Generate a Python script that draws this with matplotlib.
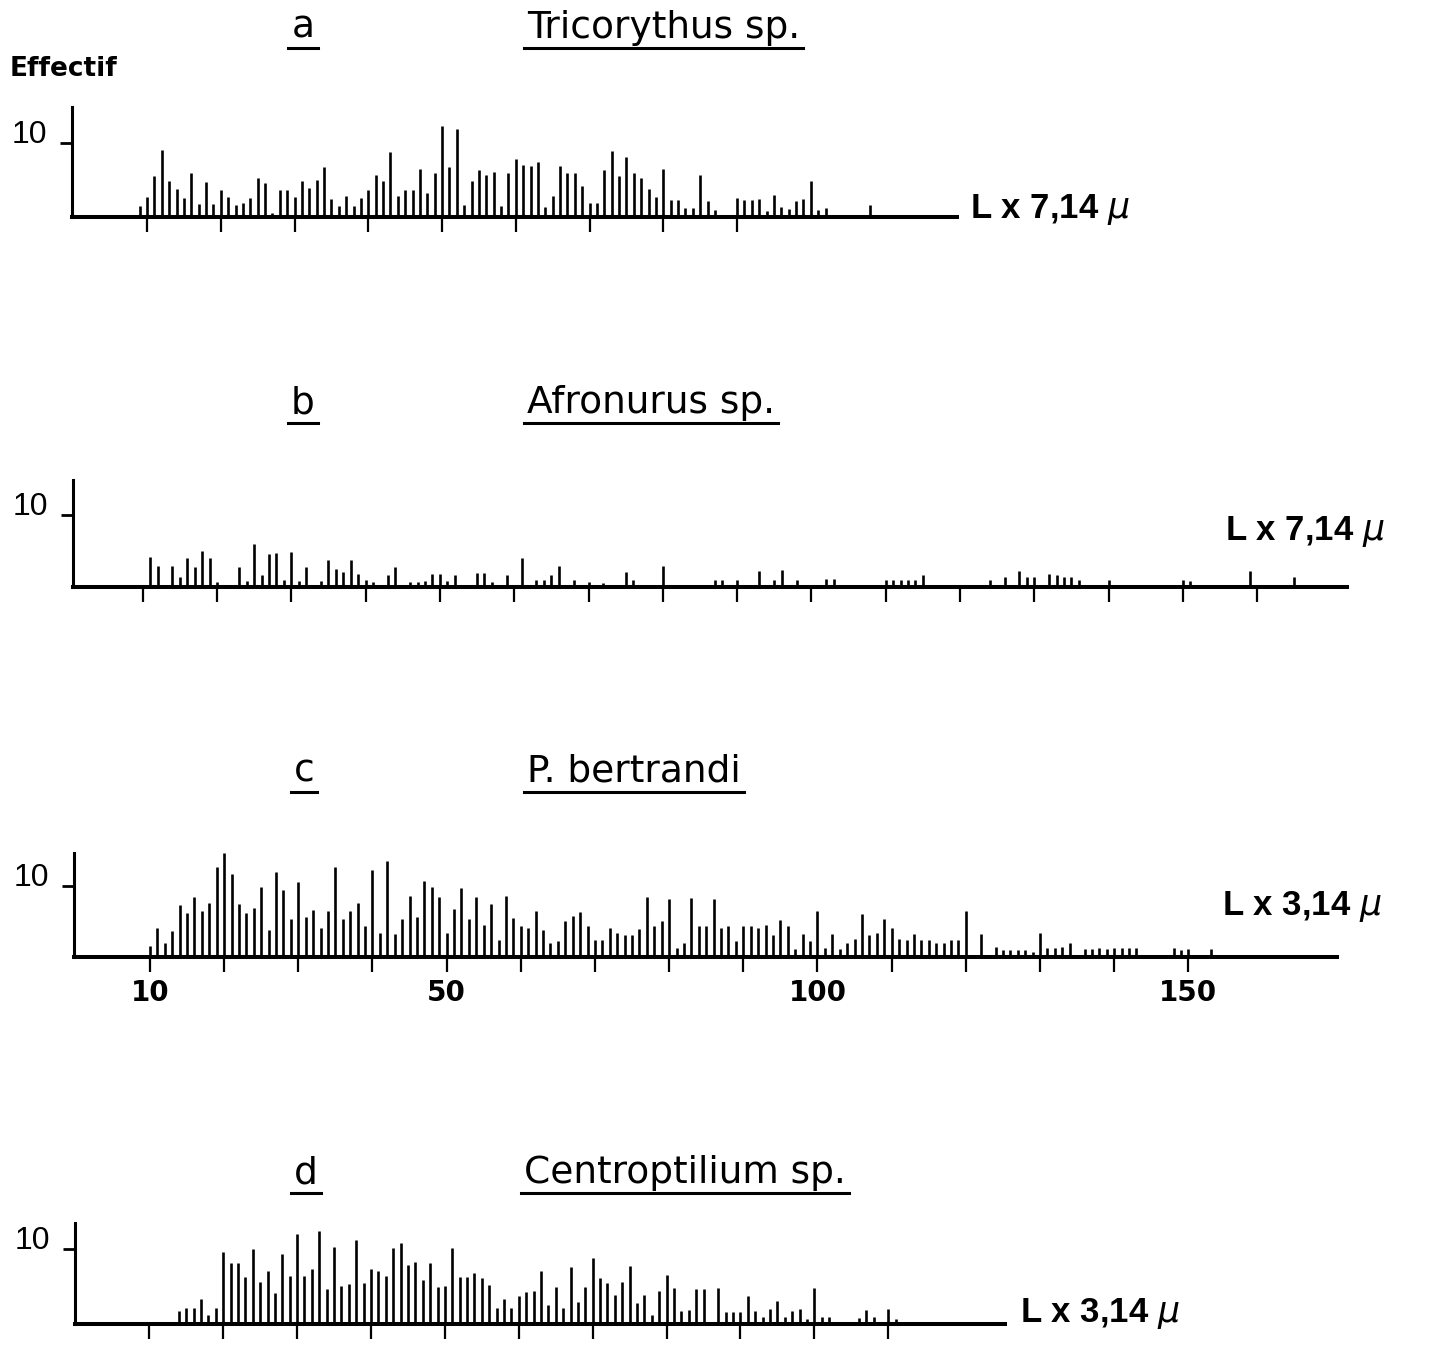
import matplotlib
matplotlib.use('Agg')
import matplotlib.pyplot as plt
from matplotlib.lines import Line2D

W, H = 1431, 1351
DPI = 100

# size classes (L, in micrometer units) and counts (effectif)
a_len = list(range(9, 88)) + [90, 91, 92, 93, 94, 95, 96, 97, 98, 99, 100, 101, 102, 108]
a_n = [1.4, 2.6, 5.6, 9.1, 4.8, 3.7, 2.5, 6.0, 1.7, 4.7,
       1.7, 3.6, 2.6, 1.6, 1.8, 2.5, 5.2, 4.6, 0.5, 3.6,
       3.6, 2.6, 4.9, 3.9, 5.0, 6.7, 2.4, 1.5, 2.8, 1.4,
       2.5, 3.6, 5.7, 4.8, 8.8, 2.8, 3.6, 3.6, 6.5, 3.2,
       5.9, 12.3, 6.7, 11.9, 1.6, 4.8, 6.4, 5.7, 6.1, 1.4,
       5.9, 7.8, 7.1, 6.9, 7.4, 1.3, 2.8, 6.9, 6.0, 6.0,
       4.1, 1.9, 1.9, 6.3, 8.9, 5.6, 8.1, 5.9, 5.3, 3.8,
       2.7, 6.5, 2.2, 2.2, 1.2, 1.1, 5.7, 2.1, 0.9,
       2.5, 2.2, 2.2, 2.4, 0.8, 3.0, 1.3, 1.0, 2.1, 2.4, 4.8, 0.9, 1.1, 1.6]

b_len = [11, 12, 14, 15, 16, 17, 18, 19, 20, 23, 24, 25, 26, 27, 28, 29, 30, 31, 32,
         34, 35, 36, 37, 38, 39, 40, 41, 43, 44, 46, 47, 48, 49, 50, 51, 52, 55, 56, 57,
         59, 61, 63, 64, 65, 66, 68, 70, 72, 75, 76, 80, 87, 88, 90, 93, 95, 96, 98,
         102, 103, 110, 111, 112, 113, 114, 115, 124, 126, 128, 129, 130,
         132, 133, 134, 135, 136, 140, 150, 151, 159, 165]
b_n = [4.1, 2.9, 2.9, 1.4, 4.0, 2.8, 5.0, 4.0, 0.6, 2.8, 0.8, 6.0, 1.6, 4.6, 4.7, 1.0, 4.8, 0.8, 2.8,
       0.8, 3.7, 2.4, 2.0, 3.7, 1.8, 0.9, 0.7, 1.6, 2.7, 0.7, 0.7, 0.8, 1.8, 1.8, 0.8, 1.6, 1.9, 1.9, 0.6,
       1.6, 4.0, 0.9, 0.9, 1.7, 2.9, 0.9, 0.7, 0.5, 2.0, 0.9, 2.9, 0.9, 0.9, 0.9, 2.2, 0.9, 2.3, 1.0,
       1.1, 1.1, 0.9, 0.9, 0.9, 1.0, 1.0, 1.6, 1.0, 1.3, 2.2, 1.3, 1.3,
       1.8, 1.6, 1.3, 1.3, 1.0, 1.0, 1.0, 0.8, 2.2, 1.3]

c_len = list(range(10, 121)) + [122, 124, 125, 126, 127, 128, 129, 130, 131, 132, 133, 134,
                                136, 137, 138, 139, 140, 141, 142, 143, 148, 149, 150, 153]
c_n = [1.5, 4.0, 1.9, 3.7, 7.3, 6.2, 8.5, 6.4, 7.6, 12.7,
       14.7, 11.7, 7.4, 6.2, 6.9, 9.9, 3.8, 12.0, 9.5, 5.4,
       10.6, 5.6, 6.6, 4.1, 6.4, 12.7, 5.4, 6.5, 7.6, 4.3,
       12.3, 3.4, 13.6, 3.2, 5.3, 8.6, 5.6, 10.7, 9.8, 8.5,
       3.3, 6.7, 9.7, 5.4, 8.4, 4.5, 7.4, 2.4, 8.6, 5.5,
       4.3, 4.1, 6.4, 3.8, 2.0, 2.2, 5.1, 5.8, 6.3, 4.3,
       2.4, 2.3, 4.1, 3.3, 3.1, 3.1, 3.9, 8.4, 4.3, 5.0,
       8.1, 1.2, 2.0, 8.3, 4.3, 4.3, 8.2, 4.1, 4.3, 2.2,
       4.3, 4.3, 4.1, 4.5, 3.1, 5.2, 4.4, 1.1, 3.2, 2.2,
       6.4, 1.3, 3.2, 1.1, 2.0, 2.5, 6.1, 3.1, 3.3, 5.4,
       4.1, 2.5, 2.4, 3.2, 2.4, 2.3, 2.0, 1.9, 2.3, 2.4,
       6.5, 3.2, 1.4, 0.9, 0.9, 1.0, 0.9, 0.7, 3.3, 1.2, 1.3, 1.4, 2.0,
       1.1, 1.1, 1.2, 1.1, 1.2, 1.2, 1.2, 1.2, 1.3, 0.9, 1.1, 1.1]

d_len = list(range(14, 86)) + list(range(87, 103)) + [106, 107, 108, 110, 111]
d_n = [1.7, 2.2, 2.2, 3.4, 1.2, 2.2,
       9.6, 8.2, 8.2, 6.3, 10.0, 5.6, 7.1, 4.1, 9.4, 6.4,
       12.1, 6.4, 7.3, 12.4, 4.7, 10.3, 5.1, 5.3, 11.3, 5.5,
       7.3, 7.1, 6.4, 10.2, 10.8, 7.9, 8.3, 5.9, 8.2, 5.0,
       5.1, 10.2, 6.3, 6.3, 6.8, 6.2, 5.2, 2.2, 3.4, 2.1,
       3.8, 4.3, 4.4, 7.1, 2.5, 4.9, 2.1, 7.6, 3.0, 4.9,
       8.8, 6.1, 5.5, 3.9, 5.6, 7.8, 2.8, 3.9, 1.2, 4.4,
       6.6, 4.8, 1.8, 1.9, 4.7, 4.7,
       4.8, 1.6, 1.6, 1.6, 3.8, 1.7, 0.9, 2.0, 3.1, 0.9, 1.7, 2.0, 0.7, 4.8, 1.0, 1.0,
       0.8, 1.9, 0.9, 2.0, 0.7]

letters = ['a', 'b', 'c', 'd']
species = ['Tricorythus sp.', 'Afronurus sp.', 'P. bertrandi', 'Centroptilium sp.']
units = ['L x 7,14 $\\mu$', 'L x 7,14 $\\mu$', 'L x 3,14 $\\mu$', 'L x 3,14 $\\mu$']
c_ticklabels = {10: '10', 50: '50', 100: '100', 150: '150'}

COND = ['Liberation Sans Narrow', 'DejaVu Sans']
SANS = ['Liberation Sans', 'DejaVu Sans']
WIDE = ['DejaVu Sans']

# layout in pixels: left, right, baseline, top of y axis, x of L=0, px per L, px per count
layout = [
    dict(left=72, right=957, base=216.5, top=107, x0=73.25, sx=7.375, sy=7.32, ticks=range(10, 100, 10)),
    dict(left=73, right=1347, base=586.7, top=480, x0=68.4, sx=7.43, sy=7.17, ticks=range(10, 170, 10)),
    dict(left=74, right=1337, base=956.7, top=852.7, x0=75.8, sx=7.417, sy=7.07, ticks=range(10, 160, 10)),
    dict(left=75, right=1005, base=1324, top=1223.3, x0=75.4, sx=7.39, sy=7.47, ticks=range(10, 120, 10)),
]
title_y = [38, 413, 782, 1183]
letter_x = [303, 303, 304, 306]
species_x = [527, 527, 527, 524]
unit_pos = [(970, 218), (1225, 540), (1222, 915), (1020, 1322)]

fig = plt.figure(figsize=(W / DPI, H / DPI), dpi=DPI)


def ftext(x, y, s, **kw):
    return fig.text(x / W, 1 - y / H, s, **kw)


data = [(a_len, a_n), (b_len, b_n), (c_len, c_n), (d_len, d_n)]
titles = []
for i, (lens, counts) in enumerate(data):
    L = layout[i]
    ax = fig.add_axes([L['left'] / W, 1 - L['base'] / H,
                       (L['right'] - L['left']) / W, (L['base'] - L['top']) / H])
    ax.set_xlim((L['left'] - L['x0']) / L['sx'], (L['right'] - L['x0']) / L['sx'])
    ax.set_ylim(0, (L['base'] - L['top']) / L['sy'])
    ax.patch.set_alpha(0)
    ax.vlines(lens, 0, counts, color='black', lw=1.9)
    for s in ['top', 'right']:
        ax.spines[s].set_visible(False)
    ax.spines['bottom'].set_linewidth(2.9)
    ax.spines['left'].set_linewidth(2.2)
    ax.spines['bottom'].set_zorder(3)

    ticks = list(L['ticks'])
    ax.set_xticks(ticks)
    if i == 2:
        ax.set_xticklabels([c_ticklabels.get(t, '') for t in ticks],
                           family=COND, fontweight='bold', fontsize=20)
    else:
        ax.set_xticklabels([])
    ax.tick_params(axis='x', direction='out', length=11, width=1.6, pad=5)

    ax.set_yticks([10])
    ax.set_yticklabels(['10'], family=SANS, fontsize=23)
    for lab in ax.get_yticklabels():
        lab.set_va('baseline')
    ax.tick_params(axis='y', direction='out', length=9, width=2, pad=9)

    t1 = ftext(letter_x[i], title_y[i], letters[i], ha='center', va='baseline',
               family=WIDE, fontsize=27)
    t2 = ftext(species_x[i], title_y[i], species[i], ha='left', va='baseline',
               family=WIDE, fontsize=27)
    titles += [t1, t2]
    ux, uy = unit_pos[i]
    ftext(ux, uy, units[i], ha='left', va='baseline', family=SANS,
          fontweight='bold', fontsize=25)

ftext(10, 76, 'Effectif', ha='left', va='baseline', family=COND,
      fontweight='bold', fontsize=19)

# underline the titles
fig.canvas.draw()
r = fig.canvas.get_renderer()
inv = fig.transFigure.inverted()
for t in titles:
    bb = t.get_window_extent(r)
    (x0, y0), (x1, _) = inv.transform([(bb.x0 - 3, bb.y0 - 2), (bb.x1 + 3, bb.y0 - 2)])
    fig.add_artist(Line2D([x0, x1], [y0, y0], color='black', lw=2.2, transform=fig.transFigure))

fig.savefig('out.png', dpi=DPI)
